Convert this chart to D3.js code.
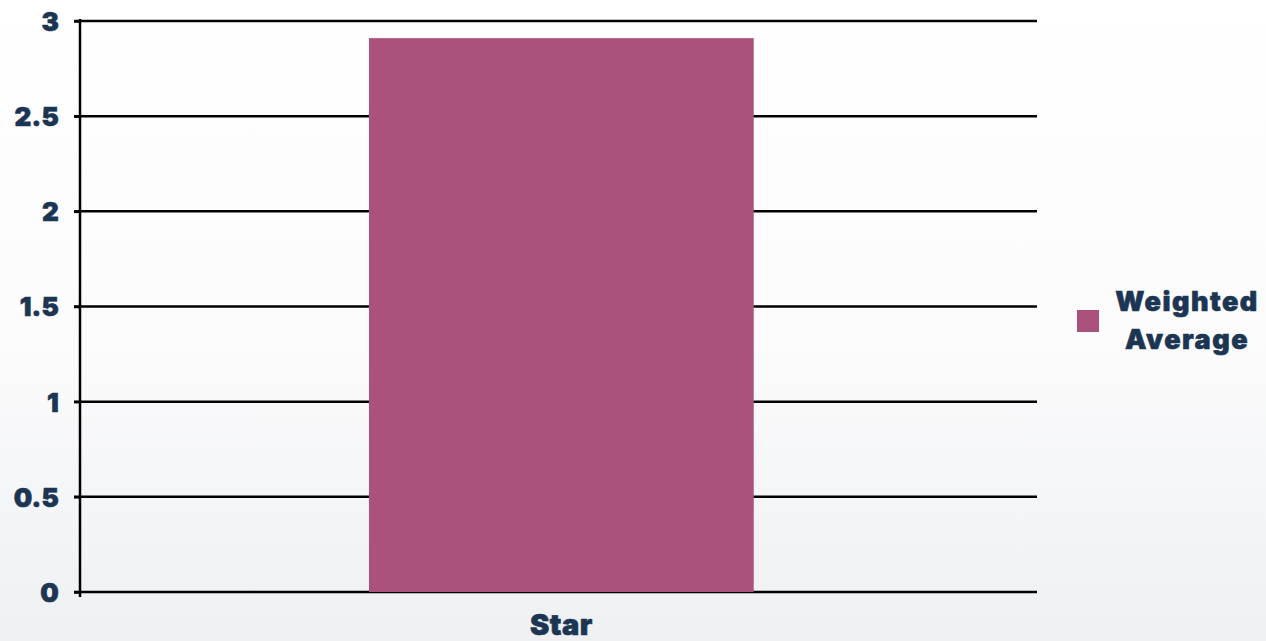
<!DOCTYPE html>
<html>
<head>
<meta charset="utf-8">
<script src="https://cdn.jsdelivr.net/npm/d3@7"></script>
<style>
  html, body { margin: 0; padding: 0; }
  body { width: 1266px; height: 641px; overflow: hidden; }
  svg { display: block; }
</style>
</head>
<body>
<svg id="chart" width="1266" height="641"></svg>
<script>
// Chart data
const categories = ["Star"];
const seriesName = ["Weighted", "Average"];
const weightedAverage = [2.91];
const yTicks = [0, 0.5, 1, 1.5, 2, 2.5, 3];
const yTickLabels = ["0", "0.5", "1", "1.5", "2", "2.5", "3"];

const W = 1266, H = 641;
const margin = { left: 80, right: 229, top: 21, bottom: 49 };
const textColor = "#1b3553";
const barColor = "#aa527c";
const fontFamily = "Inter, Roboto, 'Noto Sans', sans-serif";

const svg = d3.select("#chart");

// Soft background wash
const defs = svg.append("defs");
const bg = defs.append("linearGradient").attr("id", "bg").attr("x1", 0).attr("y1", 0).attr("x2", 0).attr("y2", 1);
bg.append("stop").attr("offset", "0%").attr("stop-color", "#ffffff");
bg.append("stop").attr("offset", "55%").attr("stop-color", "#fbfbfc");
bg.append("stop").attr("offset", "100%").attr("stop-color", "#eef0f2");
svg.append("rect").attr("width", W).attr("height", H).attr("fill", "url(#bg)");

const x = d3.scaleBand()
  .domain(categories)
  .range([margin.left, W - margin.right])
  .padding(0.4265)
  .align(0.505);

const y = d3.scaleLinear()
  .domain([0, 3])
  .range([H - margin.bottom, margin.top]);

// Horizontal gridlines
svg.append("g")
  .selectAll("line")
  .data(yTicks)
  .join("line")
  .attr("x1", margin.left - 6)
  .attr("x2", W - margin.right)
  .attr("y1", d => y(d))
  .attr("y2", d => y(d))
  .attr("stroke", "#000")
  .attr("stroke-width", 2.5);

// Bars
svg.append("g")
  .selectAll("rect")
  .data(categories)
  .join("rect")
  .attr("x", d => x(d))
  .attr("width", x.bandwidth())
  .attr("y", (d, i) => y(weightedAverage[i]))
  .attr("height", (d, i) => y(0) - y(weightedAverage[i]))
  .attr("fill", barColor);

// Y axis
const yAxis = d3.axisLeft(y)
  .tickValues(yTicks)
  .tickFormat((d, i) => yTickLabels[i])
  .tickSize(6)
  .tickPadding(15);
const gy = svg.append("g")
  .attr("transform", `translate(${margin.left},0)`)
  .call(yAxis);
gy.select(".domain").remove();
gy.selectAll(".tick line").attr("stroke", "#000").attr("stroke-width", 2.5);
gy.selectAll(".tick text")
  .attr("fill", textColor)
  .attr("stroke", textColor)
  .attr("stroke-width", 0.6)
  .attr("font-family", fontFamily)
  .attr("font-weight", 900)
  .attr("font-size", 26)
  .attr("letter-spacing", 0.2)
  .attr("dy", "0.36em");
gy.append("line")
  .attr("x1", 0).attr("x2", 0)
  .attr("y1", y(3) - 2).attr("y2", y(0) + 5)
  .attr("stroke", "#000").attr("stroke-width", 2.5);

// X axis labels
const xAxis = d3.axisBottom(x).tickSize(0).tickPadding(22);
const gx = svg.append("g")
  .attr("transform", `translate(0,${y(0)})`)
  .call(xAxis);
gx.select(".domain").remove();
gx.selectAll(".tick text")
  .attr("fill", textColor)
  .attr("stroke", textColor)
  .attr("stroke-width", 0.6)
  .attr("font-family", fontFamily)
  .attr("font-weight", 900)
  .attr("font-size", 29)
  .attr("letter-spacing", 0.5);

// Legend
const legend = svg.append("g");
legend.append("rect")
  .attr("x", 1077).attr("y", 310)
  .attr("width", 22).attr("height", 22)
  .attr("fill", barColor);
legend.append("text")
  .attr("x", 1187)
  .attr("text-anchor", "middle")
  .attr("fill", textColor)
  .attr("stroke", textColor)
  .attr("stroke-width", 0.6)
  .attr("font-family", fontFamily)
  .attr("font-weight", 900)
  .attr("font-size", 27)
  .attr("letter-spacing", 1.5)
  .selectAll("tspan")
  .data(seriesName)
  .join("tspan")
  .attr("x", 1187)
  .attr("y", (d, i) => 311 + i * 38)
  .text(d => d);
</script>
</body>
</html>
